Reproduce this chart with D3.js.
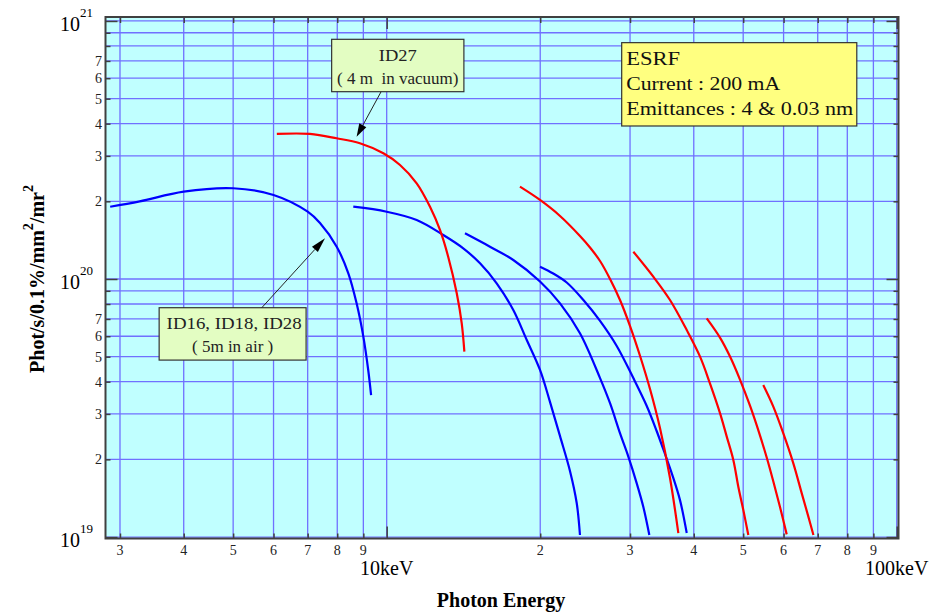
<!DOCTYPE html>
<html>
<head>
<meta charset="utf-8">
<script src="https://cdn.jsdelivr.net/npm/d3@7"></script>
<style>
    body { margin: 0; background: #fff; }
    svg { display: block; font-family: "Liberation Serif", "Times New Roman", serif; }
</style>
</head>
<body>
<svg id="chart" width="946" height="612"></svg>
<script>
// flux values are in units of 1e20 phot/s/0.1%/mm2/mr2, energies in keV
const FLUX_UNIT = 1e20;

// ID16, ID18, ID28 (5 m in air) - harmonics
const air1 = [[2.87, 1.906], [3.28, 2.0], [4.0, 2.18], [5.0, 2.247], [6.0, 2.117], [7.0, 1.823], [7.4, 1.648],
    [7.98, 1.334], [8.41, 1.052], [8.73, 0.805], [9.0, 0.598], [9.2, 0.444], [9.32, 0.355]];
const air2 = [[8.6, 1.906], [10.0, 1.823], [11.45, 1.693], [12.91, 1.481], [14.13, 1.315], [15.24, 1.15],
    [16.43, 0.962], [17.71, 0.758], [18.82, 0.58], [19.98, 0.444], [20.9, 0.334], [21.87, 0.246], [22.88, 0.18],
    [23.58, 0.1355], [23.93, 0.1018]];
const air3 = [[14.24, 1.503], [15.94, 1.334], [17.71, 1.185], [19.98, 0.978], [21.87, 0.805], [23.93, 0.616],
    [26.2, 0.413], [27.41, 0.33], [28.68, 0.252], [29.77, 0.205], [30.92, 0.1615], [31.85, 0.131], [32.73, 0.1018]];
const air4 = [[19.98, 1.116], [21.21, 1.05], [22.54, 0.969], [24.3, 0.829], [26.2, 0.688], [28.25, 0.55],
    [30.45, 0.413], [32.35, 0.322], [33.83, 0.2576], [35.13, 0.2098], [36.26, 0.1754], [37.59, 0.139], [38.75, 0.1036]];

// ID27 (4 m in vacuum) - harmonics
const vac1 = [[6.09, 3.65], [7.07, 3.65], [7.98, 3.51], [8.86, 3.357], [9.85, 3.07], [10.62, 2.766], [11.45, 2.349],
    [12.16, 1.906], [12.72, 1.549], [13.2, 1.22], [13.72, 0.88], [14.03, 0.674], [14.2, 0.523]];
const vac2 = [[18.25, 2.279], [19.98, 2.024], [21.87, 1.755], [23.93, 1.468], [25.04, 1.325], [26.2, 1.174],
    [27.41, 1.0], [28.67, 0.829], [30.0, 0.657], [31.39, 0.503], [32.83, 0.3747], [34.34, 0.2646], [35.93, 0.1693],
    [37.31, 0.1036]];
const vac3 = [[30.45, 1.276], [33.32, 1.021], [35.93, 0.829], [38.75, 0.634], [41.15, 0.5], [43.03, 0.394],
    [45.03, 0.302], [46.42, 0.245], [47.82, 0.199], [48.91, 0.1567], [50.03, 0.1272], [51.17, 0.1018]];
const vac4 = [[42.41, 0.704], [45.03, 0.593], [47.11, 0.5008], [49.28, 0.4077], [51.58, 0.322], [53.95, 0.2472],
    [55.62, 0.2028], [57.29, 0.1641], [59.04, 0.1307], [60.85, 0.1024]];
const vac5 = [[54.74, 0.388], [57.28, 0.32], [59.93, 0.252], [62.7, 0.193], [65.13, 0.1477], [67.1, 0.12], [68.65, 0.1018]];

const airCurves = [air1, air2, air3, air4];
const vacCurves = [vac1, vac2, vac3, vac4, vac5];

// axis labels
const xMinorLabels = [3, 4, 5, 6, 7, 8, 9, 20, 30, 40, 50, 60, 70, 80, 90];
const xMajorLabels = [[10, "10keV"], [100, "100keV"]];
const yDecades = [19, 20, 21];
const yMinorLabels = [2, 3, 4, 5, 6, 7];

// annotation boxes, corners in data units (keV, 1e20)
const esrfBox = { e0: 28.89, e1: 83.5, f0: 8.24, f1: 3.917 };
const esrfLines = [["ESRF", 54], ["Current : 200 mA", 154], ["Emittances : 4 & 0.03 nm", 227]];
const id27Box = { e0: 7.8, e1: 14.17, f0: 8.49, f1: 5.32, tail: [9.746, 5.31], tip: [8.73, 3.56] };
const id27Lines = [["ID27", 38], ["( 4 m  in vacuum)", null]];
const airBox = { e0: 3.58, e1: 6.95, f0: 0.774, f1: 0.485, tail: [5.69, 0.774], tip: [7.57, 1.438] };
const airLines = [["ID16, ID18, ID28", 135], ["( 5m in air )", null]];

const plot = { left: 105.5, right: 898.5, top: 17, bottom: 538.5 };

const x = d3.scaleLog().domain([2.81, 100.8]).range([plot.left, plot.right]);
const y = d3.scaleLog().domain([0.987e19, 1.036e21]).range([plot.bottom, plot.top]);

const svg = d3.select("#chart");

svg.append("defs").append("clipPath").attr("id", "clip")
    .append("rect").attr("x", plot.left).attr("y", plot.top)
    .attr("width", plot.right - plot.left).attr("height", plot.bottom - plot.top);

svg.append("rect").attr("x", plot.left).attr("y", plot.top)
    .attr("width", plot.right - plot.left).attr("height", plot.bottom - plot.top)
    .attr("fill", "#c0ffff");

// grid values
const xGrid = [];
[1, 10].forEach(d => { for (let k = 1; k <= 9; k++) xGrid.push(k * d); });
xGrid.push(100);
const xGridIn = xGrid.filter(v => x(v) > plot.left + 1 && x(v) < plot.right - 1);
const yGrid = [];
[1e19, 1e20].forEach(d => { for (let k = 1; k <= 9; k++) yGrid.push(k * d); });
yGrid.push(1e21);
const yMajor = yDecades.map(d => Math.pow(10, d));

const grid = svg.append("g").attr("stroke", "#7070ff").attr("stroke-width", 1.3);
grid.selectAll(".gx").data(xGridIn).join("line")
    .attr("x1", d => x(d)).attr("x2", d => x(d)).attr("y1", plot.top).attr("y2", plot.bottom);
grid.selectAll(".gy").data(yGrid).join("line")
    .attr("y1", d => y(d)).attr("y2", d => y(d)).attr("x1", plot.left).attr("x2", plot.right);

// curves
const line = d3.line().x(d => x(d[0])).y(d => y(d[1] * FLUX_UNIT)).curve(d3.curveCatmullRom.alpha(0.5));
const curves = svg.append("g").attr("clip-path", "url(#clip)").attr("fill", "none").attr("stroke-width", 2.2);
curves.selectAll(".air").data(airCurves).join("path").attr("d", line).attr("stroke", "#0000ff");
curves.selectAll(".vac").data(vacCurves).join("path").attr("d", line).attr("stroke", "#ff0000");

// ticks (inside) on all four sides
const tickColor = "#404040";
const isMajorX = v => v === 10 || v === 100;
const axB = svg.append("g").attr("transform", `translate(0,${plot.bottom})`)
    .call(d3.axisBottom(x).tickValues(xGridIn).tickSizeOuter(0).tickSizeInner(-5).tickFormat(""));
const axT = svg.append("g").attr("transform", `translate(0,${plot.top})`)
    .call(d3.axisTop(x).tickValues(xGridIn).tickSizeOuter(0).tickSizeInner(-6).tickFormat(""));
[axB, axT].forEach((ax, i) => {
    ax.select(".domain").remove();
    ax.selectAll(".tick line").attr("stroke", tickColor).attr("stroke-width", 1.5)
        .attr("y2", d => (isMajorX(d) ? 12 : (i === 0 ? 5 : 6)) * (i === 0 ? -1 : 1));
});
const axL = svg.append("g").attr("transform", `translate(${plot.left},0)`)
    .call(d3.axisLeft(y).tickValues(yGrid).tickSizeOuter(0).tickSizeInner(-5).tickFormat(""));
const axR = svg.append("g").attr("transform", `translate(${plot.right},0)`)
    .call(d3.axisRight(y).tickValues(yGrid).tickSizeOuter(0).tickSizeInner(-6).tickFormat(""));
[axL, axR].forEach((ax, i) => {
    ax.select(".domain").remove();
    ax.selectAll(".tick line").attr("stroke", tickColor).attr("stroke-width", 1.5)
        .attr("x2", d => (yMajor.includes(d) ? 12 : 5) * (i === 0 ? 1 : -1));
});

// border
svg.append("rect").attr("x", plot.left).attr("y", plot.top)
    .attr("width", plot.right - plot.left).attr("height", plot.bottom - plot.top)
    .attr("fill", "none").attr("stroke", "#404040").attr("stroke-width", 2);

// x labels
svg.append("g").selectAll("text").data(xMinorLabels).join("text")
    .attr("x", d => x(d)).attr("y", plot.bottom + 16)
    .attr("text-anchor", "middle").attr("font-size", 14).attr("fill", "#222")
    .text(d => d >= 10 ? d / 10 : d);
svg.append("g").selectAll("text").data(xMajorLabels).join("text")
    .attr("x", d => x(d[0])).attr("y", plot.bottom + 36)
    .attr("text-anchor", "middle").attr("font-size", 20).attr("fill", "#000")
    .text(d => d[1]);

// y labels
const decLabels = svg.append("g").selectAll("text").data(yDecades).join("text")
    .attr("x", 60).attr("y", d => y(Math.pow(10, d)) + 9.7).attr("fill", "#000");
decLabels.append("tspan").attr("font-size", 20).text("10");
decLabels.append("tspan").attr("font-size", 13).attr("dy", -14).text(d => d);

const yMinor = [];
[1e19, 1e20].forEach(dec => yMinorLabels.forEach(k => yMinor.push([k, k * dec])));
svg.append("g").selectAll("text").data(yMinor).join("text")
    .attr("x", 102).attr("y", d => y(d[1]) + 5)
    .attr("text-anchor", "end").attr("font-size", 14).attr("fill", "#222")
    .text(d => d[0]);

// axis titles
svg.append("text").attr("x", 501).attr("y", 607).attr("text-anchor", "middle")
    .attr("font-size", 20).attr("font-weight", "bold").text("Photon Energy");

const yTitle = svg.append("text").attr("transform", `translate(44,279) rotate(-90)`)
    .attr("text-anchor", "middle").attr("font-size", 20).attr("font-weight", "bold");
yTitle.append("tspan").text("Phot/s/0.1%/mm");
yTitle.append("tspan").attr("font-size", 14).attr("dy", -11).text("2");
yTitle.append("tspan").attr("dy", 11).text("/mr");
yTitle.append("tspan").attr("font-size", 14).attr("dy", -11).text("2");

// annotations
function drawBox(box, fill) {
    const bx = x(box.e0), by = y(box.f0 * FLUX_UNIT);
    const bw = x(box.e1) - bx, bh = y(box.f1 * FLUX_UNIT) - by;
    const g = svg.append("g");
    g.append("rect").attr("x", bx).attr("y", by).attr("width", bw).attr("height", bh)
        .attr("fill", fill).attr("stroke", "#333").attr("stroke-width", 1.2);
    return { g, bx, by, bw, bh };
}

function drawArrow(box, headLen, headW) {
    const x1 = x(box.tail[0]), y1 = y(box.tail[1] * FLUX_UNIT);
    const x2 = x(box.tip[0]), y2 = y(box.tip[1] * FLUX_UNIT);
    const a = Math.atan2(y2 - y1, x2 - x1);
    const bxp = x2 - headLen * Math.cos(a), byp = y2 - headLen * Math.sin(a);
    svg.append("line").attr("x1", x1).attr("y1", y1).attr("x2", bxp).attr("y2", byp)
        .attr("stroke", "#222").attr("stroke-width", 1);
    const px = -Math.sin(a) * headW / 2, py = Math.cos(a) * headW / 2;
    svg.append("path")
        .attr("d", `M${x2},${y2}L${bxp + px},${byp + py}L${bxp - px},${byp - py}Z`)
        .attr("fill", "#000");
}

const esrf = drawBox(esrfBox, "#ffff80");
esrf.g.selectAll("text").data(esrfLines).join("text")
    .attr("x", esrf.bx + 4.5).attr("y", (d, i) => esrf.by + 22.5 + i * 25)
    .attr("font-size", 18).attr("fill", "#111")
    .attr("textLength", d => d[1]).attr("lengthAdjust", "spacingAndGlyphs")
    .text(d => d[0]);

const b27 = drawBox(id27Box, "#e3fdc2");
b27.g.selectAll("text").data(id27Lines).join("text")
    .attr("x", b27.bx + b27.bw / 2).attr("y", (d, i) => b27.by + 21.5 + i * 23)
    .attr("text-anchor", "middle").attr("font-size", 17).attr("fill", "#222")
    .style("white-space", "pre").attr("xml:space", "preserve")
    .each(function (d) { if (d[1]) d3.select(this).attr("textLength", d[1]).attr("lengthAdjust", "spacingAndGlyphs"); })
    .text(d => d[0]);
drawArrow(id27Box, 13, 8);

const bAir = drawBox(airBox, "#e3fdc2");
bAir.g.selectAll("text").data(airLines).join("text")
    .attr("x", (d, i) => bAir.bx + bAir.bw / 2 + (i === 0 ? 1.5 : 0))
    .attr("y", (d, i) => bAir.by + 21.5 + i * 22.5)
    .attr("text-anchor", "middle").attr("font-size", 17).attr("fill", "#222")
    .each(function (d) { if (d[1]) d3.select(this).attr("textLength", d[1]).attr("lengthAdjust", "spacingAndGlyphs"); })
    .text(d => d[0]);
drawArrow(airBox, 15, 8);
</script>
</body>
</html>
